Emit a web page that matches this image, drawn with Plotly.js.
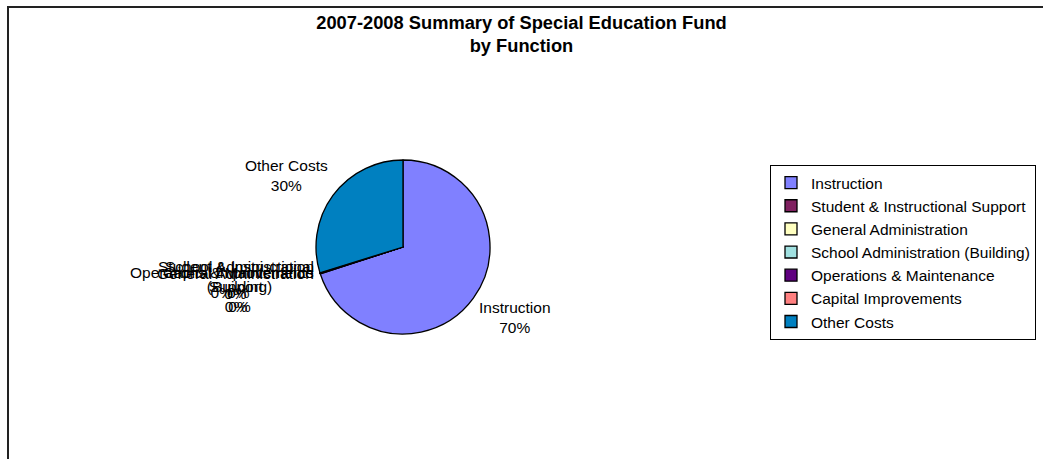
<!DOCTYPE html>
<html>
<head>
<meta charset="utf-8">
<script src="https://cdn.plot.ly/plotly-3.0.1.min.js"></script>
<style>
  html, body { margin: 0; padding: 0; background: #fff; }
  #chart { width: 1043px; height: 459px; }
</style>
</head>
<body>
<div id="chart"></div>
<script>
// ---- data ----
const categories = [
  "Instruction",
  "Student & Instructional Support",
  "General Administration",
  "School Administration (Building)",
  "Operations & Maintenance",
  "Capital Improvements",
  "Other Costs"
];
const amounts = [1050000, 1200, 600, 400, 300, 200, 447000];
const sliceColors = ["#8080FF", "#802060", "#FFFFC0", "#A0E0E0", "#600080", "#FF8080", "#0080C0"];
const chartTitle = "2007-2008 Summary of Special Education Fund<br>by Function";

// ---- geometry ----
const W = 1043, H = 459;
const CX = 403, CY = 247, R = 87;
const FONT = "Liberation Sans, Arial, sans-serif";
const FS = 15.5, LH = FS * 1.3;

function wrap(s) {
  if (s.length <= 25) return s;
  const cut = s.lastIndexOf(" ", 24);
  return s.slice(0, cut) + "<br>" + s.slice(cut + 1);
}

const total = amounts.reduce((a, b) => a + b, 0);
let cum = 0;
const annotations = [];
amounts.forEach((v, i) => {
  const frac = v / total;
  const mid = (cum + frac / 2) * 2 * Math.PI; // clockwise from 12 o'clock
  cum += frac;
  const s = Math.sin(mid), c = Math.cos(mid);
  const text = wrap(categories[i]) + "<br>" + Math.round(frac * 100) + "%";
  const nLines = text.split("<br>").length;
  const h = nLines * LH;
  const px = CX + s * 91;
  const py = CY - c * 100 - c * h / 2;
  annotations.push({
    xref: "paper", yref: "paper",
    x: px / W, y: 1 - py / H,
    xanchor: s < 0 ? "right" : "left",
    yanchor: "middle",
    align: "center",
    showarrow: false,
    text: text,
    font: { family: FONT, size: FS, color: "#000" }
  });
});

const trace = {
  type: "pie",
  labels: categories,
  values: amounts,
  sort: false,
  direction: "clockwise",
  rotation: 0,
  textinfo: "none",
  hoverinfo: "label+percent",
  marker: { colors: sliceColors, line: { color: "#000", width: 1.3 } },
  domain: {
    x: [(CX - R) / W, (CX + R) / W],
    y: [1 - (CY + R) / H, 1 - (CY - R) / H]
  }
};

const layout = {
  width: W, height: H,
  margin: { l: 0, r: 0, t: 0, b: 0 },
  paper_bgcolor: "#fff",
  plot_bgcolor: "#fff",
  font: { family: FONT, size: FS, color: "#000" },
  title: {
    text: chartTitle,
    font: { family: FONT, size: 18.3, color: "#000", weight: "bold" },
    x: 0.5, xanchor: "center",
    y: 1 - 28.5 / H, yanchor: "middle", yref: "container"
  },
  showlegend: true,
  legend: {
    x: 770 / W, xanchor: "left",
    y: 1 - 165 / H, yanchor: "top",
    bordercolor: "#000", borderwidth: 1,
    bgcolor: "#fff",
    font: { family: FONT, size: FS, color: "#000" },
    traceorder: "normal"
  },
  annotations: annotations,
  shapes: [{
    type: "rect", xref: "paper", yref: "paper",
    x0: 8 / W, x1: 1.05, y0: -0.05, y1: 1 - 7 / H,
    line: { color: "#222", width: 2 }, fillcolor: "rgba(0,0,0,0)"
  }]
};

Plotly.newPlot("chart", [trace], layout, { staticPlot: true, displayModeBar: false });
</script>
</body>
</html>
